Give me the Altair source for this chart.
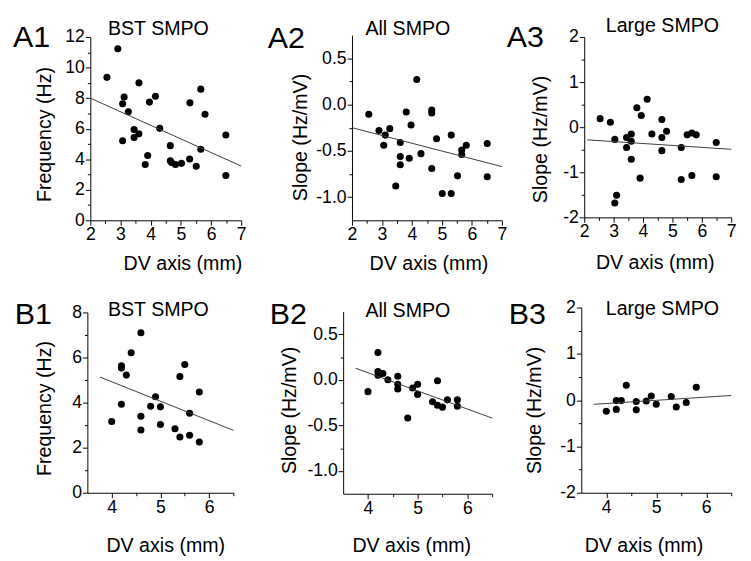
import altair as alt
import pandas as pd

FONT = "Liberation Sans, Arial, sans-serif"

# ---------------- data ----------------
a1_x = [2.55, 2.91, 3.07, 3.12, 3.07, 3.26, 3.45, 3.45, 3.61, 3.61, 3.82, 3.90, 3.96, 4.16,
        4.30, 4.65, 4.65, 4.69, 4.82, 5.02, 5.30, 5.29, 5.51, 5.66, 5.66, 5.80, 6.49, 6.49]
a1_y = [9.36, 11.23, 7.63, 8.08, 5.21, 7.11, 5.94, 5.42, 5.66, 9.00, 3.66, 4.24, 7.74, 8.12,
        6.02, 4.89, 3.90, 3.79, 3.66, 3.73, 7.69, 4.01, 3.54, 8.59, 4.65, 6.94, 5.59, 2.94]

a2_x = [2.56, 2.90, 3.11, 3.06, 3.26, 3.46, 3.61, 3.61, 3.61, 3.81, 3.91, 3.97, 4.16, 4.30,
        4.66, 4.66, 4.66, 4.82, 5.01, 5.31, 5.31, 5.52, 5.66, 5.66, 5.81, 6.51, 6.51]
a2_y = [-0.105, -0.28, -0.33, -0.44, -0.26, -0.88, -0.41, -0.56, -0.65, -0.08, -0.58, -0.22,
        0.27, -0.53, -0.06, -0.09, -0.69, -0.37, -0.96, -0.33, -0.96, -0.77, -0.49, -0.54,
        -0.44, -0.42, -0.78]

a3_x = [2.54, 2.89, 3.04, 3.04, 3.10, 3.44, 3.44, 3.60, 3.60, 3.60, 3.79, 3.90, 3.94, 4.14,
        4.30, 4.64, 4.64, 4.64, 4.80, 5.30, 5.30, 5.50, 5.66, 5.66, 5.81, 6.49, 6.49]
a3_y = [0.19, 0.11, -0.27, -1.68, -1.51, -0.23, -0.45, -0.15, -0.31, -0.71, 0.43, -1.13,
        0.26, 0.62, -0.15, 0.17, -0.23, -0.52, -0.09, -0.45, -1.16, -0.17, -0.13, -1.07,
        -0.17, -0.34, -1.10]

b1_x = [4.0, 4.2, 4.2, 4.2, 4.3, 4.4, 4.6, 4.6, 4.6, 4.8, 4.9, 5.0, 5.0, 5.3, 5.4, 5.4,
        5.5, 5.6, 5.6, 5.8, 5.8]
b1_y = [3.16, 5.63, 5.53, 3.93, 5.22, 6.21, 7.10, 3.39, 2.78, 3.84, 4.26, 3.81, 3.03, 2.84,
        5.16, 2.47, 5.69, 3.53, 2.55, 4.47, 2.25]

b2_x = [4.0, 4.2, 4.2, 4.2, 4.25, 4.3, 4.4, 4.6, 4.6, 4.6, 4.8, 4.9, 5.0, 5.0, 5.3, 5.4,
        5.4, 5.5, 5.6, 5.8, 5.8]
b2_y = [-0.13, 0.30, 0.09, 0.05, 0.07, 0.07, 0.0, 0.04, -0.05, -0.10, -0.42, -0.09, -0.05,
        -0.16, -0.24, -0.01, -0.28, -0.30, -0.22, -0.22, -0.29]

b3_x = [4.0, 4.2, 4.2, 4.3, 4.4, 4.6, 4.6, 4.8, 4.9, 5.0, 5.3, 5.4, 5.6, 5.8]
b3_y = [-0.24, -0.01, -0.20, -0.01, 0.32, -0.03, -0.21, -0.02, 0.09, -0.09, 0.08, -0.15,
        -0.05, 0.28]

# fitted lines (end points)
a1_fit_x, a1_fit_y = [2.0, 7.0], [8.0, 3.55]
a2_fit_x, a2_fit_y = [2.0, 7.0], [-0.25, -0.67]
a3_fit_x, a3_fit_y = [2.1, 7.0], [-0.28, -0.49]
b1_fit_x, b1_fit_y = [3.76, 6.5], [5.13, 2.77]
b2_fit_x, b2_fit_y = [3.75, 6.5], [0.127, -0.42]
b3_fit_x, b3_fit_y = [3.75, 6.5], [-0.09, 0.10]

panel_labels = ["A1", "A2", "A3", "B1", "B2", "B3"]
panel_titles = ["BST SMPO", "All SMPO", "Large SMPO", "BST SMPO", "All SMPO", "Large SMPO"]
y_titles = ["Frequency (Hz)", "Slope (Hz/mV)", "Slope (Hz/mV)",
            "Frequency (Hz)", "Slope (Hz/mV)", "Slope (Hz/mV)"]
x_title = "DV axis (mm)"

# axis domains and tick values
x_dom_a, x_dom_b = [2, 7], [3.5, 6.5]
x_major_a, x_minor_a = [2, 3, 4, 5, 6, 7], [2.5, 3.5, 4.5, 5.5, 6.5]
x_major_b, x_minor_b = [4, 5, 6], [4.5, 5.5, 6.5]
y_dom_freq_a, y_major_freq_a, y_minor_freq_a = [0, 12], [0, 2, 4, 6, 8, 10, 12], [1, 3, 5, 7, 9, 11]
y_dom_freq_b, y_major_freq_b, y_minor_freq_b = [0, 8], [0, 2, 4, 6, 8], [1, 3, 5, 7]
y_dom_all, y_major_all, y_minor_all = [-1.25, 0.75], [-1.0, -0.5, 0.0, 0.5], [-0.75, -0.25, 0.25]
y_dom_large, y_major_large, y_minor_large = [-2, 2], [-2, -1, 0, 1, 2], [-1.5, -0.5, 0.5, 1.5]

# ---------------- layout (pixels, per cell) ----------------
CELL_W, CELL_H = 250, 274
layout = [
    dict(xr=[84, 238], yr=[211, 24], ytx=-47, yty=123, xtx=178, xty=50, tx=102, ty=22, lx=5, ly=34),
    dict(xr=[101, 254], yr=[211, 22], ytx=-52, yty=126, xtx=179, xty=50, tx=114.7, ty=22, lx=15, ly=35),
    dict(xr=[88, 238], yr=[208, 24], ytx=-45, yty=128, xtx=160, xty=52.5, tx=110, ty=18.7, lx=9, ly=34),
    dict(xr=[81, 230], yr=[215, 31], ytx=-43.5, yty=128.5, xtx=160.5, xty=59.7, tx=102, ty=34.7, lx=7, ly=43),
    dict(xr=[92, 244], yr=[216, 30], ytx=-54.5, yty=130.5, xtx=161.5, xty=58.7, tx=114.7, ty=36, lx=17, ly=43),
    dict(xr=[85, 238], yr=[215, 26], ytx=-47.5, yty=130.5, xtx=148.5, xty=59.7, tx=110, ty=33.7, lx=11, ly=43),
]

MINUS_FIX = "replace(datum.label, '\u2212', '-')"


def panel(i, xs, ys, fx, fy, xdom, xmaj, xmin, ydom, ymaj, ymin, yfmt):
    L = layout[i]
    xscale = alt.Scale(domain=xdom, range=L["xr"], nice=False, zero=False)
    yscale = alt.Scale(domain=ydom, range=L["yr"], nice=False, zero=False)
    x_off = -(CELL_H - L["yr"][0])
    y_off = -L["xr"][0]

    x_major = alt.Axis(orient="bottom", offset=x_off, values=xmaj, format="d",
                       tickSize=5, labelPadding=1, title=x_title,
                       titleX=L["xtx"], titleY=L["xty"], titleBaseline="alphabetic",
                       titleAlign="center", grid=False)
    y_major = alt.Axis(orient="left", offset=y_off, values=ymaj, format=yfmt,
                       labelExpr=MINUS_FIX, tickSize=5, labelPadding=1,
                       title=y_titles[i], titleX=L["ytx"], titleY=L["yty"],
                       titleAngle=270, titleBaseline="middle", titleAlign="center",
                       grid=False)
    x_minor = alt.Axis(orient="bottom", offset=x_off, values=xmin, labels=False,
                       domain=False, tickSize=3, title=None, grid=False)
    y_minor = alt.Axis(orient="left", offset=y_off, values=ymin, labels=False,
                       domain=False, tickSize=3, title=None, grid=False)

    pts_df = pd.DataFrame({"x": xs, "y": ys})
    fit_df = pd.DataFrame({"x": fx, "y": fy})

    pts = alt.Chart(pts_df).mark_circle(size=52, color="black", opacity=1).encode(
        x=alt.X("x:Q", scale=xscale, axis=x_major),
        y=alt.Y("y:Q", scale=yscale, axis=y_major),
    )
    fit = alt.Chart(fit_df).mark_line(color="#3a3a3a", strokeWidth=1).encode(
        x=alt.X("x:Q", scale=xscale, axis=x_minor),
        y=alt.Y("y:Q", scale=yscale, axis=y_minor),
    )
    ttl = alt.Chart(pd.DataFrame({"t": [panel_titles[i]]})).mark_text(
        align="left", baseline="alphabetic", fontSize=20, font=FONT, color="black"
    ).encode(text="t:N", x=alt.value(L["tx"]), y=alt.value(L["ty"]))
    lab = alt.Chart(pd.DataFrame({"t": [panel_labels[i]]})).mark_text(
        align="left", baseline="alphabetic", fontSize=31, font=FONT, color="black"
    ).encode(text="t:N", x=alt.value(L["lx"]), y=alt.value(L["ly"]))

    return alt.layer(pts, fit, ttl, lab).resolve_axis(
        x="independent", y="independent"
    ).properties(width=CELL_W, height=CELL_H)


panels = [
    panel(0, a1_x, a1_y, a1_fit_x, a1_fit_y, x_dom_a, x_major_a, x_minor_a,
          y_dom_freq_a, y_major_freq_a, y_minor_freq_a, "d"),
    panel(1, a2_x, a2_y, a2_fit_x, a2_fit_y, x_dom_a, x_major_a, x_minor_a,
          y_dom_all, y_major_all, y_minor_all, ".1f"),
    panel(2, a3_x, a3_y, a3_fit_x, a3_fit_y, x_dom_a, x_major_a, x_minor_a,
          y_dom_large, y_major_large, y_minor_large, "d"),
    panel(3, b1_x, b1_y, b1_fit_x, b1_fit_y, x_dom_b, x_major_b, x_minor_b,
          y_dom_freq_b, y_major_freq_b, y_minor_freq_b, "d"),
    panel(4, b2_x, b2_y, b2_fit_x, b2_fit_y, x_dom_b, x_major_b, x_minor_b,
          y_dom_all, y_major_all, y_minor_all, ".1f"),
    panel(5, b3_x, b3_y, b3_fit_x, b3_fit_y, x_dom_b, x_major_b, x_minor_b,
          y_dom_large, y_major_large, y_minor_large, "d"),
]

chart = alt.concat(*panels, columns=3, spacing=0, bounds="flush").properties(
    padding=0, background="white"
).configure_view(stroke=None).configure_axis(
    labelFont=FONT, titleFont=FONT, labelFontSize=18, titleFontSize=20,
    labelColor="black", titleColor="black", domainColor="black", tickColor="black",
    domainWidth=1, tickWidth=1, labelFlush=False, labelOverlap=False,
    titleFontWeight="normal", labelBound=False,
)

chart.save("out.html", embed_options={"renderer": "svg", "actions": False})
